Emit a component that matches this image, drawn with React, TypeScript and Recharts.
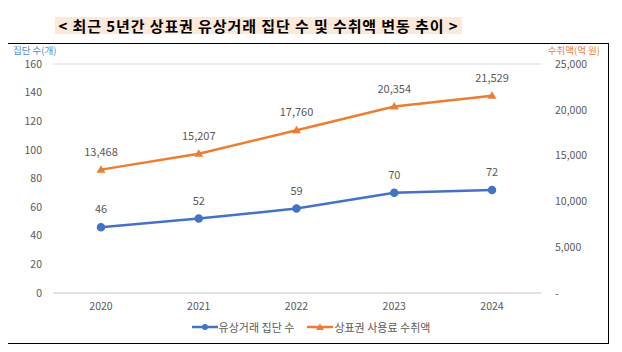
import React from "react"
import { LineChart, Line, XAxis, YAxis, CartesianGrid, Legend, LabelList } from "recharts"

const years = ["2020", "2021", "2022", "2023", "2024"]
const groupCounts = [46, 52, 59, 70, 72]
const royaltyAmounts = [13468, 15207, 17760, 20354, 21529]
const leftTicks = [0, 20, 40, 60, 80, 100, 120, 140, 160]
const rightTicks = [0, 5000, 10000, 15000, 20000, 25000]
const seriesNames = ["유상거래 집단 수", "상표권 사용료 수취액"]

const BLUE = "#4472C4"
const ORANGE = "#ED7D31"
const FONT = "'Noto Sans CJK KR', 'Noto Sans', sans-serif"

const data = years.map((year, i) => ({
  year,
  count: groupCounts[i],
  amount: royaltyAmounts[i],
}))

const fmt = (v: number) => (v === 0 ? "-" : v.toLocaleString("en-US"))

function LegendContent() {
  const items = [
    { name: seriesNames[0], color: BLUE, shape: "circle" },
    { name: seriesNames[1], color: ORANGE, shape: "triangle" },
  ]
  return (
    <div style={{ display: "flex", justifyContent: "center", gap: 13, fontFamily: FONT, fontSize: 11, color: "#595959" }}>
      {items.map((it) => (
        <div key={it.name} style={{ display: "flex", alignItems: "center" }}>
          <svg width={26} height={10}>
            <line x1={0} y1={5} x2={26} y2={5} stroke={it.color} strokeWidth={2.5} />
            {it.shape === "circle" ? (
              <circle cx={13} cy={5} r={3} fill={it.color} />
            ) : (
              <polygon points="13,1.5 17,8 9,8" fill={it.color} />
            )}
          </svg>
          <span style={{ marginLeft: 1 }}>{it.name}</span>
        </div>
      ))}
    </div>
  )
}

function Triangle(props: any) {
  const { cx, cy } = props
  if (cx == null || cy == null) return null
  return <polygon points={`${cx},${cy - 4.5} ${cx + 4.5},${cy + 3} ${cx - 4.5},${cy + 3}`} fill={ORANGE} />
}

export default function App() {
  return (
    <div style={{ position: "relative", width: 622, height: 352, margin: -8, background: "#fff", fontFamily: FONT }}>
      <div
        style={{
          position: "absolute",
          left: 55,
          top: 17,
          width: 407,
          height: 17,
          background: "#FDE9D9",
        }}
      />
      <div
        style={{
          position: "absolute",
          left: 55,
          top: 15,
          width: 407,
          textAlign: "center",
          fontSize: 15,
          fontWeight: 700,
          color: "#000",
          letterSpacing: 0.9,
          whiteSpace: "pre",
          lineHeight: "21px",
        }}
      >
        {"< 최근 5년간 상표권 유상거래 집단 수 및 수취액 변동 추이 >"}
      </div>
      <div
        style={{
          position: "absolute",
          left: 5,
          top: 43,
          width: 602,
          height: 299,
          border: "1px solid #000",
        }}
      />
      <div style={{ position: "absolute", left: 13, top: 45, fontSize: 9.5, lineHeight: "10px", color: "#4A8AD4" }}>집단 수(개)</div>
      <div style={{ position: "absolute", right: 22, top: 45, fontSize: 9.5, lineHeight: "10px", color: "#EE8040" }}>수취액(억 원)</div>
      <div style={{ position: "absolute", left: 0, top: 0 }}>
        <LineChart width={622} height={352} data={data} margin={{ top: 64, right: 0, bottom: 29, left: 0 }}>
          <CartesianGrid vertical={false} stroke="#D9D9D9" />
          <XAxis
            dataKey="year"
            axisLine={{ stroke: "#D9D9D9" }}
            tickLine={false}
            height={30}
            padding={{ left: 48, right: 49 }}
            tickMargin={4}
            tick={{ fill: "#595959", fontSize: 10.5, fontFamily: FONT }}
          />
          <YAxis
            yAxisId="left"
            width={53}
            domain={[0, 160]}
            ticks={leftTicks}
            axisLine={false}
            tickLine={false}
            tickMargin={5}
            tick={{ fill: "#595959", fontSize: 10.5, fontFamily: FONT }}
          />
          <YAxis
            yAxisId="right"
            orientation="right"
            width={81}
            domain={[0, 25000]}
            ticks={rightTicks}
            tickFormatter={fmt}
            axisLine={false}
            tickLine={false}
            tickMargin={8}
            tick={{ fill: "#595959", fontSize: 10.5, fontFamily: FONT, textAnchor: "start" }}
          />
          <Line
            yAxisId="left"
            dataKey="count"
            name={seriesNames[0]}
            stroke={BLUE}
            strokeWidth={2.5}
            dot={{ r: 3, fill: BLUE, stroke: BLUE }}
            isAnimationActive={false}
          >
            <LabelList dataKey="count" position="top" offset={14} fill="#595959" fontSize={11} fontFamily={FONT} />
          </Line>
          <Line
            yAxisId="right"
            dataKey="amount"
            name={seriesNames[1]}
            stroke={ORANGE}
            strokeWidth={2.5}
            dot={<Triangle />}
            isAnimationActive={false}
          >
            <LabelList dataKey="amount" position="top" offset={14} formatter={(v: any) => fmt(Number(v))} fill="#595959" fontSize={11} fontFamily={FONT} />
          </Line>
          <Legend
            verticalAlign="middle"
            layout="horizontal"
            content={<LegendContent />}
            wrapperStyle={{ top: 319, left: 0, width: 622 }}
          />
        </LineChart>
      </div>
    </div>
  )
}
